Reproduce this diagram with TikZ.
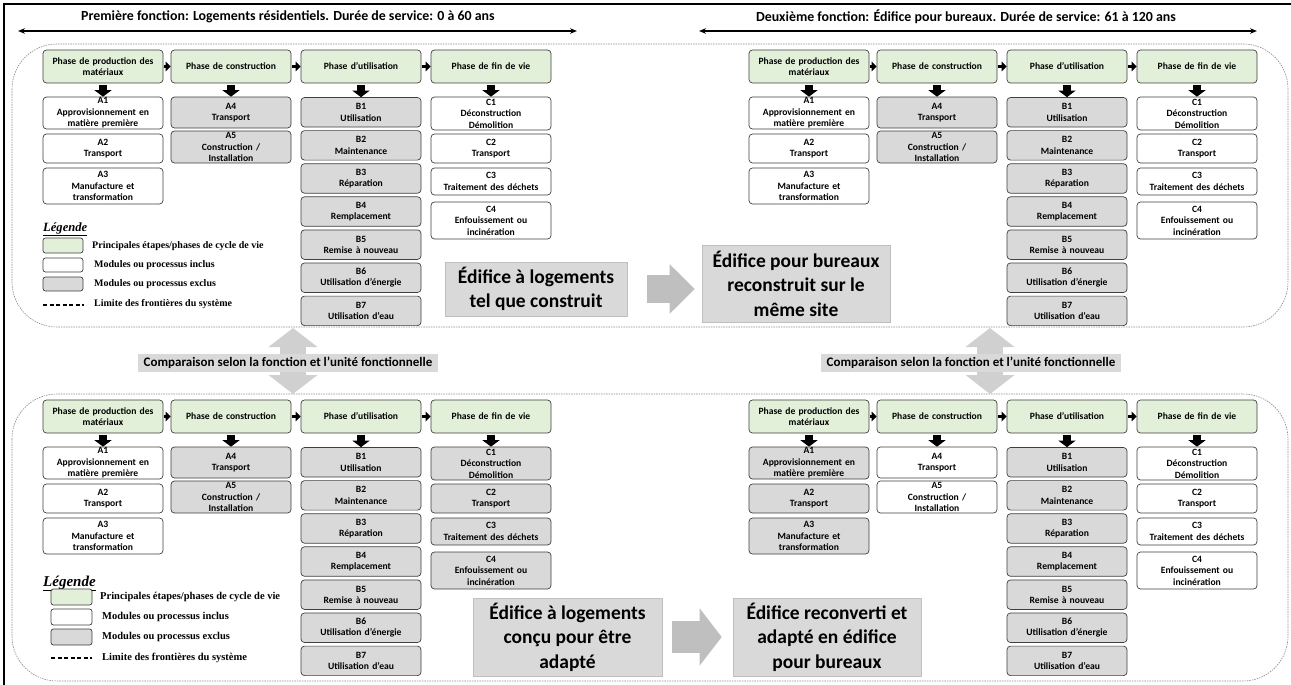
\documentclass[tikz,border=0pt]{standalone}
\usepackage{fontspec}
\setmainfont{Carlito}
\newfontfamily\legfont{Liberation Serif}
\usetikzlibrary{arrows.meta}

\definecolor{phasegreen}{HTML}{E2F0D9}
\definecolor{exgray}{HTML}{D9D9D9}
\definecolor{boxline}{HTML}{3F3F3F}
\definecolor{bigarrow}{HTML}{BFBFBF}
\definecolor{cmparrow}{HTML}{D0D0D0}
\definecolor{edgegray}{HTML}{8C8C8C}

\tikzset{
  stage/.style={draw=boxline, line width=0.7pt, rounded corners=3.5pt, align=center,
    inner sep=0pt, text width=120pt, font=\fontsize{9.6}{11.4}\selectfont\bfseries},
  phasebox/.style={stage, fill=phasegreen},
  inbox/.style={stage, fill=white},
  exbox/.style={stage, fill=exgray},
  downarr/.style={draw=black, line width=8pt, -{Triangle[length=6.5pt,width=17pt]}, shorten <=1.5pt},
  nextarr/.style={draw=black, line width=3.6pt, -{Triangle[length=5pt,width=9.5pt]}, shorten <=1pt},
  bound/.style={draw=edgegray, line width=0.6pt, dash pattern=on 1.5pt off 1pt, rounded corners=45pt},
  bigbox/.style={fill=exgray, draw=black!25, line width=0.6pt, align=center, inner sep=0pt,
    font=\fontsize{19.5}{24.5}\selectfont\bfseries},
  bigarr/.style={draw=bigarrow},
  cmparr/.style={draw=cmparrow, line width=26pt,
    {Triangle[length=19pt,width=48pt]}-{Triangle[length=19pt,width=48pt]}},
  cmplabel/.style={fill=exgray, inner xsep=6pt, inner ysep=3.5pt,
    font=\fontsize{13}{15}\selectfont\bfseries},
  titletext/.style={inner sep=0pt, font=\fontsize{13.9}{16}\selectfont\bfseries},
  spanarr/.style={draw=black, line width=1.2pt,
    {Stealth[length=7pt,width=5.5pt]}-{Stealth[length=7pt,width=5.5pt]}},
  legswatch/.style={draw=boxline, line width=0.7pt, rounded corners=2.5pt, inner sep=0pt},
  legtext/.style={anchor=west, inner sep=0pt},
}

% One life-cycle block: #1 name prefix, #2/#3 offset,
% #4 style of A1-A3, #5 style of A4-A5, #6 style of B1-B7, #7 style of C1-C4
\newcommand\lcapanel[7]{%
\begin{scope}[shift={(#2,#3)}]
  \node[phasebox, minimum height=33pt] (#1g1) at (103,66.5) {Phase de production des\\matériaux};
  \node[phasebox, minimum height=33pt] (#1g2) at (231,66.5) {Phase de construction};
  \node[phasebox, minimum height=33pt] (#1g3) at (361,66.5) {Phase d’utilisation};
  \node[phasebox, minimum height=33pt] (#1g4) at (491,66.5) {Phase de fin de vie};
  \node[#4, minimum height=32pt] (#1a1) at (103,113) {A1\\Approvisionnement en\\matière première};
  \node[#4, minimum height=29pt] (#1a2) at (103,148.5) {A2\\Transport};
  \node[#4, minimum height=36pt] (#1a3) at (103,186) {A3\\Manufacture et\\transformation};
  \node[#5, minimum height=31pt] (#1a4) at (231,112.5) {A4\\Transport};
  \node[#5, minimum height=32pt] (#1a5) at (231,147) {A5\\Construction /\\Installation};
  \node[#6, minimum height=29.5pt] (#1b1) at (361,112.25) {B1\\Utilisation};
  \node[#6, minimum height=29.5pt] (#1b2) at (361,145.35) {B2\\Maintenance};
  \node[#6, minimum height=29.5pt] (#1b3) at (361,178.45) {B3\\Réparation};
  \node[#6, minimum height=29.5pt] (#1b4) at (361,211.55) {B4\\Remplacement};
  \node[#6, minimum height=29.5pt] (#1b5) at (361,244.65) {B5\\Remise à nouveau};
  \node[#6, minimum height=29.5pt] (#1b6) at (361,277.75) {B6\\Utilisation d’énergie};
  \node[#6, minimum height=29.5pt] (#1b7) at (361,310.85) {B7\\Utilisation d’eau};
  \node[#7, minimum height=33pt] (#1c1) at (491,113.5) {C1\\Déconstruction\\Démolition};
  \node[#7, minimum height=29pt] (#1c2) at (491,148.5) {C2\\Transport};
  \node[#7, minimum height=27pt] (#1c3) at (491,181.5) {C3\\Traitement des déchets};
  \node[#7, minimum height=37pt] (#1c4) at (491,220.5) {C4\\Enfouissement ou\\incinération};
  \draw[nextarr] (#1g1) -- (#1g2);
  \draw[nextarr] (#1g2) -- (#1g3);
  \draw[nextarr] (#1g3) -- (#1g4);
  \draw[downarr] (#1g1) -- (#1a1);
  \draw[downarr] (#1g2) -- (#1a4);
  \draw[downarr] (#1g3) -- (#1b1);
  \draw[downarr] (#1g4) -- (#1c1);
\end{scope}}

\begin{document}
\begin{tikzpicture}[x=1pt,y=-1pt]
\useasboundingbox (0,0) rectangle (1291,685);
\fill[white] (0,0) rectangle (1291,685);
% outer frame
\draw[black, line width=1.2pt] (4,720) -- (4,4) -- (1320,4);

% service-life spans
\node[titletext] (t1) at (288,17) {Première fonction: Logements résidentiels. Durée de service: 0 à 60 ans};
\node[titletext] (t2) at (966,17) {Deuxième fonction: Édifice pour bureaux. Durée de service: 61 à 120 ans};
\coordinate (t1l) at (18,31);  \coordinate (t1r) at (577,31);
\coordinate (t2l) at (699,31); \coordinate (t2r) at (1257,31);
\draw[spanarr] (t1l) -- (t1r);
\draw[spanarr] (t2l) -- (t2r);

% system boundaries
\draw[bound] (12,44) rectangle (1288,327);
\draw[bound] (12,394) rectangle (1288,681);

% comparison arrows between the two scenarios
\coordinate (vL1) at (293,328); \coordinate (vL2) at (293,394);
\coordinate (vR1) at (990,328); \coordinate (vR2) at (990,394);
\draw[cmparr] (vL1) -- (vL2);
\draw[cmparr] (vR1) -- (vR2);
\node[cmplabel] (cmpL) at (288,363) {Comparaison selon la fonction et l’unité fonctionnelle};
\node[cmplabel] (cmpR) at (971,363) {Comparaison selon la fonction et l’unité fonctionnelle};

% life-cycle modules
\lcapanel{tl}{0}{0}{inbox}{exbox}{exbox}{inbox}
\lcapanel{tr}{706}{0}{inbox}{exbox}{exbox}{inbox}
\lcapanel{bl}{0}{350}{inbox}{exbox}{exbox}{exbox}
\lcapanel{br}{706}{350}{exbox}{inbox}{exbox}{inbox}

% scenarios
\node[bigbox, minimum width=182pt, minimum height=54pt] (e1) at (536,289) {Édifice à logements\\tel que construit};
\node[bigbox, minimum width=188pt, minimum height=77pt] (e2) at (796,283.5) {Édifice pour bureaux\\reconstruit sur le\\même site};
\node[bigbox, minimum width=189pt, minimum height=78pt] (e3) at (567.5,637) {Édifice à logements\\conçu pour être\\adapté};
\node[bigbox, minimum width=188pt, minimum height=78pt] (e4) at (827,637) {Édifice reconverti et\\adapté en édifice\\pour bureaux};
\draw[bigarr, line width=28pt, -{Triangle[length=25pt,width=48pt]}, shorten <=20pt, shorten >=7pt]
  (e1.east) -- (e1.east -| e2.west);
\draw[bigarr, line width=32pt, -{Triangle[length=22pt,width=56pt]}, shorten <=10pt, shorten >=11pt]
  (e3.east) -- (e4.west);

% legend, upper block
\node[anchor=base west, inner sep=0pt, font=\legfont\fontsize{12.6}{14}\selectfont\bfseries\itshape] (lgt1) at (43,231) {\underline{Légende}};
\node[legswatch, fill=phasegreen, minimum width=40pt, minimum height=15pt] (lga1) at (63,245.5) {};
\node[legswatch, fill=white, minimum width=40pt, minimum height=14pt] (lga2) at (63,265) {};
\node[legswatch, fill=exgray, minimum width=40pt, minimum height=14pt] (lga3) at (63,284) {};
\draw[black, line width=1.2pt, dash pattern=on 4pt off 2.5pt] (43,305) -- (84,305);
\begin{scope}[font=\legfont\fontsize{10}{12}\selectfont\bfseries]
\node[legtext] (lgx1) at (92,246) {Principales étapes/phases de cycle de vie};
\node[legtext] (lgx2) at (94,265) {Modules ou processus inclus};
\node[legtext] (lgx3) at (94,284) {Modules ou processus exclus};
\node[legtext] (lgx4) at (94,304) {Limite des frontières du système};
\end{scope}

% legend, lower block
\node[anchor=base west, inner sep=0pt, font=\legfont\fontsize{15}{17}\selectfont\bfseries\itshape] (lgt2) at (43,586) {\underline{Légende}};
\node[legswatch, fill=phasegreen, minimum width=41pt, minimum height=16pt] (lgb1) at (71.5,597) {};
\node[legswatch, fill=white, minimum width=41pt, minimum height=16pt] (lgb2) at (71.5,617) {};
\node[legswatch, fill=exgray, minimum width=41pt, minimum height=16pt] (lgb3) at (71.5,637) {};
\draw[black, line width=1.2pt, dash pattern=on 4pt off 2.5pt] (51,658) -- (92,658);
\begin{scope}[font=\legfont\fontsize{10.5}{12}\selectfont\bfseries]
\node[legtext] (lgy1) at (100,597) {Principales étapes/phases de cycle de vie};
\node[legtext] (lgy2) at (102,617) {Modules ou processus inclus};
\node[legtext] (lgy3) at (102,637) {Modules ou processus exclus};
\node[legtext] (lgy4) at (102,658) {Limite des frontières du système};
\end{scope}
\end{tikzpicture}
\end{document}
